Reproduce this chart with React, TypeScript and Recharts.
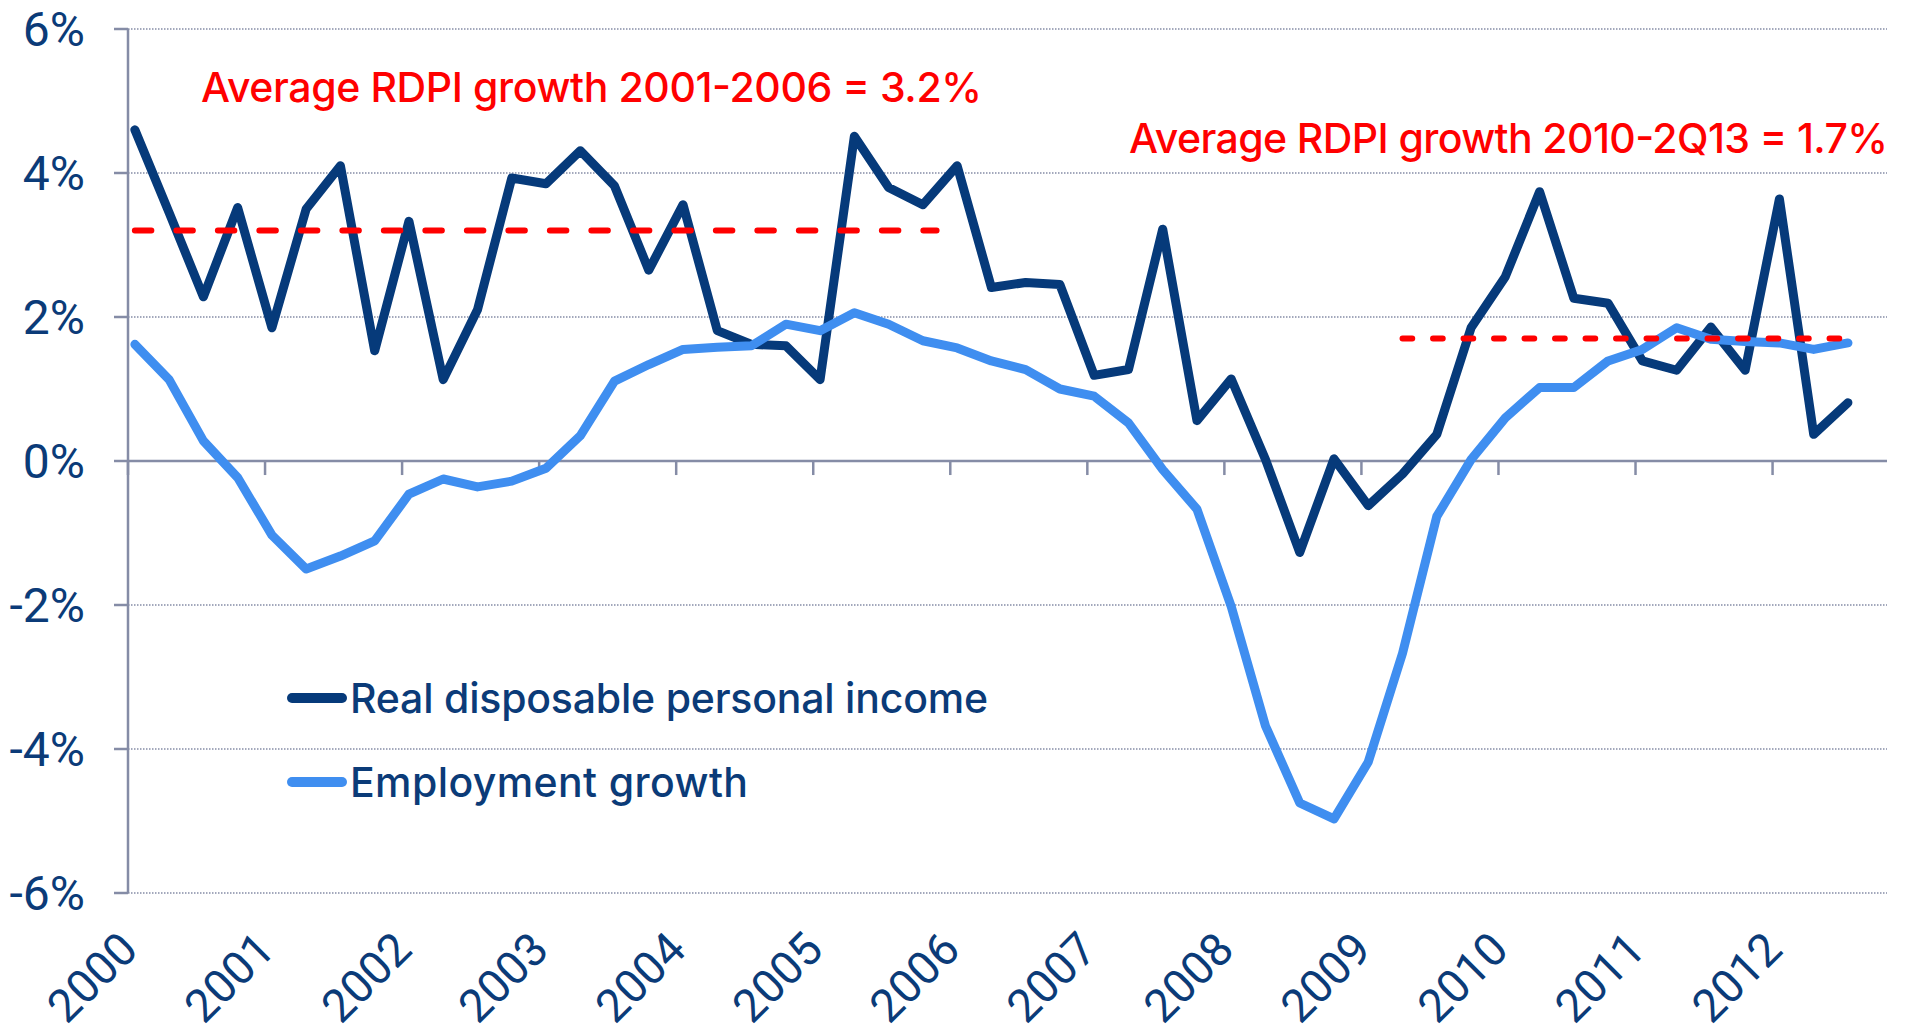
import React from 'react';
import { LineChart, Line, XAxis, YAxis, CartesianGrid, ReferenceLine, Customized } from 'recharts';

// Quarterly data, 2000Q1 .. 2012Q3 (year-over-year % growth)
const quarters: string[] = [
  '2000Q1','2000Q2','2000Q3','2000Q4','2001Q1','2001Q2','2001Q3','2001Q4',
  '2002Q1','2002Q2','2002Q3','2002Q4','2003Q1','2003Q2','2003Q3','2003Q4',
  '2004Q1','2004Q2','2004Q3','2004Q4','2005Q1','2005Q2','2005Q3','2005Q4',
  '2006Q1','2006Q2','2006Q3','2006Q4','2007Q1','2007Q2','2007Q3','2007Q4',
  '2008Q1','2008Q2','2008Q3','2008Q4','2009Q1','2009Q2','2009Q3','2009Q4',
  '2010Q1','2010Q2','2010Q3','2010Q4','2011Q1','2011Q2','2011Q3','2011Q4',
  '2012Q1','2012Q2','2012Q3',
];

const rdpi: number[] = [
  4.6, 3.45, 2.28, 3.52, 1.85, 3.5, 4.1, 1.53,
  3.33, 1.13, 2.1, 3.93, 3.85, 4.31, 3.82, 2.65,
  3.56, 1.81, 1.62, 1.6, 1.13, 4.51, 3.8, 3.56,
  4.1, 2.41, 2.48, 2.45, 1.19, 1.27, 3.22, 0.56,
  1.14, 0.02, -1.27, 0.03, -0.62, -0.18, 0.37, 1.85,
  2.56, 3.74, 2.26, 2.19, 1.39, 1.26, 1.86, 1.26,
  3.64, 0.37, 0.81,
];

const employment: number[] = [
  1.62, 1.13, 0.28, -0.23, -1.03, -1.5, -1.32, -1.11,
  -0.46, -0.25, -0.36, -0.28, -0.1, 0.35, 1.11, 1.34,
  1.55, 1.58, 1.6, 1.9, 1.81, 2.06, 1.9, 1.67,
  1.57, 1.39, 1.27, 1.0, 0.9, 0.53, -0.12, -0.67,
  -2.02, -3.68, -4.75, -4.97, -4.18, -2.67, -0.77, 0.02,
  0.6, 1.02, 1.02, 1.39, 1.55, 1.85, 1.69, 1.66,
  1.64, 1.55, 1.64,
];

const yearTicks: number[] = [2000, 2001, 2002, 2003, 2004, 2005, 2006, 2007, 2008, 2009, 2010, 2011, 2012];
const yTicks: number[] = [-6, -4, -2, 0, 2, 4, 6];

const averages = [
  { label: 'Average RDPI growth 2001-2006 = 3.2%', value: 3.2, from: '2000Q1', to: '2005Q4' },
  { label: 'Average RDPI growth 2010-2Q13 = 1.7%', value: 1.7, from: '2009Q2', to: '2012Q2' },
];

const seriesNames = ['Real disposable personal income', 'Employment growth'];

const NAVY = '#063a7a';
const LIGHT = '#3f8ef0';
const TEXT = '#0b3b78';
const RED = '#ff0000';
const GRAY = '#858ca6';

// quarter label -> position on a time axis (observations dated a little after quarter start)
const toTime = (q: string) => {
  const y = parseInt(q.slice(0, 4), 10);
  const n = parseInt(q.slice(5), 10) - 1;
  return y + n / 4 + 0.05;
};

const data = quarters.map((q, i) => ({
  t: toTime(q),
  q,
  rdpi: rdpi[i],
  emp: employment[i],
}));

const XTick = (props: any) => {
  const { x, y, payload } = props;
  const ax = x + 12;
  const ay = y + 59;
  return (
    <text
      x={ax}
      y={ay}
      transform={`rotate(-45, ${ax}, ${ay})`}
      textAnchor="end"
      fontSize={46}
      fontFamily="Roboto"
      fill={TEXT}
    >
      {payload.value}
    </text>
  );
};

const Annotations = () => (
  <g>
    <text x={201} y={102} fontFamily="Inter" fontWeight={500} fontSize={41} fill={RED} textLength={781} lengthAdjust="spacing">
      {averages[0].label}
    </text>
    <text x={1129} y={153} fontFamily="Inter" fontWeight={500} fontSize={41} fill={RED} textLength={759} lengthAdjust="spacing">
      {averages[1].label}
    </text>
  </g>
);

const colors = [NAVY, LIGHT];
const legendWidths = [638, 398];

const LegendBlock = () => (
  <g>
    {seriesNames.map((name, k) => (
      <g key={name}>
        <line x1={292} x2={342} y1={698 + k * 84} y2={698 + k * 84} stroke={colors[k]} strokeWidth={10} strokeLinecap="round" />
        <text x={350} y={713 + k * 84} fontFamily="Inter" fontWeight={500} fontSize={41} fill={TEXT} textLength={legendWidths[k]} lengthAdjust="spacing">
          {name}
        </text>
      </g>
    ))}
  </g>
);

export default function App() {
  return (
    <div style={{ position: 'absolute', left: 0, top: 0, width: 1913, height: 1035, background: '#fff' }}>
      <LineChart
        width={1913}
        height={1035}
        data={data}
        margin={{ top: 29, right: 26, bottom: 0, left: 0 }}
      >
        <CartesianGrid
          vertical={false}
          stroke={GRAY}
          strokeWidth={1.5}
          strokeDasharray="1.5 1.5"
        />
        <XAxis
          dataKey="t"
          type="number"
          domain={[2000, 2012.835]}
          ticks={yearTicks}
          interval={0}
          axisLine={false}
          tickLine={false}
          tickSize={0}
          tickMargin={0}
          height={142}
          tick={<XTick />}
          allowDataOverflow
        />
        <YAxis
          type="number"
          domain={[-6, 6]}
          ticks={yTicks}
          interval={0}
          width={128}
          tickSize={14}
          tickMargin={29}
          tickFormatter={(v: number) => `${v}%`}
          axisLine={{ stroke: GRAY, strokeWidth: 2.5 }}
          tickLine={{ stroke: GRAY, strokeWidth: 2.5 }}
          tick={{ fontSize: 48, fontFamily: 'Roboto', fill: TEXT }}
        />
        <ReferenceLine y={0} stroke={GRAY} strokeWidth={2.5} />
        {yearTicks.map((yr) => (
          <ReferenceLine
            key={yr}
            segment={[{ x: yr, y: 0 }, { x: yr, y: -0.195 }]}
            stroke={GRAY}
            strokeWidth={2.5}
          />
        ))}
        <Line
          dataKey="rdpi"
          name={seriesNames[0]}
          stroke={NAVY}
          strokeWidth={9}
          dot={false}
          strokeLinejoin="round"
          strokeLinecap="round"
          isAnimationActive={false}
        />
        <Line
          dataKey="emp"
          name={seriesNames[1]}
          stroke={LIGHT}
          strokeWidth={9}
          dot={false}
          strokeLinejoin="round"
          strokeLinecap="round"
          isAnimationActive={false}
        />
        <ReferenceLine
          segment={[
            { x: toTime(averages[0].from), y: averages[0].value },
            { x: toTime(averages[0].to) + 0.1, y: averages[0].value },
          ]}
          stroke={RED}
          strokeWidth={6}
          strokeDasharray="16.5 25"
          strokeLinecap="round"
        />
        <ReferenceLine
          segment={[
            { x: toTime(averages[1].from), y: averages[1].value },
            { x: toTime(averages[1].to) + 0.19, y: averages[1].value },
          ]}
          stroke={RED}
          strokeWidth={6}
          strokeDasharray="9.7 20.8"
          strokeLinecap="round"
        />
        <Customized component={<LegendBlock />} />
        <Customized component={<Annotations />} />
      </LineChart>
    </div>
  );
}
